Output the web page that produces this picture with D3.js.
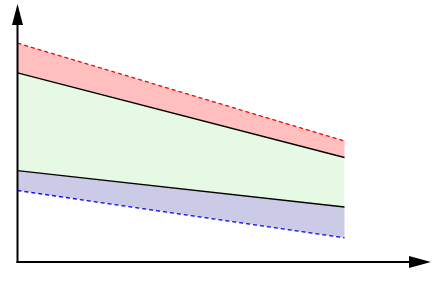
<!DOCTYPE html>
<html>
<head>
<meta charset="utf-8">
<script src="https://cdn.jsdelivr.net/npm/d3@7"></script>
<style>
  html, body { margin: 0; padding: 0; background: #fff; }
</style>
</head>
<body>
<div class="chart"></div>
<script>
// values (x from 0 to 10)
const xs = [0, 10];
const upperBound = [9.95, 5.5];
const upperLine = [8.6, 4.75];
const lowerLine = [4.15, 2.5];
const lowerBound = [3.25, 1.1];

const width = 434;
const height = 286;
const origin = { x: 17.5, y: 262 };

const svg = d3
  .select('.chart')
  .append('svg')
  .attr('width', width)
  .attr('height', height);

const x = d3.scaleLinear().domain([0, 10]).range([origin.x, 344.5]);
const y = d3.scaleLinear().domain([0, 10]).range([origin.y, 42]);

const rows = xs.map((v, i) => ({
  x: v,
  ub: upperBound[i],
  u: upperLine[i],
  l: lowerLine[i],
  lb: lowerBound[i],
}));

const band = (top, bottom) =>
  d3
    .area()
    .x((d) => x(d.x))
    .y0((d) => y(d[bottom]))
    .y1((d) => y(d[top]));

const line = (key) =>
  d3
    .line()
    .x((d) => x(d.x))
    .y((d) => y(d[key]));

svg.append('path').datum(rows).attr('d', band('ub', 'u')).attr('fill', '#ffbfbf');
svg.append('path').datum(rows).attr('d', band('u', 'l')).attr('fill', '#e5f9e5');
svg.append('path').datum(rows).attr('d', band('l', 'lb')).attr('fill', '#cbcbe8');

svg
  .append('path')
  .datum(rows)
  .attr('d', line('ub'))
  .attr('fill', 'none')
  .attr('stroke', '#ff0000')
  .attr('stroke-width', 1.3)
  .attr('stroke-dasharray', '4,3');

svg
  .append('path')
  .datum(rows)
  .attr('d', line('lb'))
  .attr('fill', 'none')
  .attr('stroke', '#0000ff')
  .attr('stroke-width', 1.3)
  .attr('stroke-dasharray', '4,3');

['u', 'l'].forEach((k) => {
  svg
    .append('path')
    .datum(rows)
    .attr('d', line(k))
    .attr('fill', 'none')
    .attr('stroke', '#000')
    .attr('stroke-width', 1.3);
});

// axes with arrow heads
svg
  .append('line')
  .attr('x1', origin.x - 1)
  .attr('y1', origin.y)
  .attr('x2', 412)
  .attr('y2', origin.y)
  .attr('stroke', '#000')
  .attr('stroke-width', 2);

svg
  .append('path')
  .attr('d', `M431,${origin.y} L409,${origin.y - 6} L409,${origin.y + 6} Z`)
  .attr('fill', '#000');

svg
  .append('line')
  .attr('x1', origin.x)
  .attr('y1', origin.y + 1)
  .attr('x2', origin.x)
  .attr('y2', 22)
  .attr('stroke', '#000')
  .attr('stroke-width', 2);

svg
  .append('path')
  .attr('d', `M${origin.x},4 L${origin.x - 5.5},25 L${origin.x + 5.5},25 Z`)
  .attr('fill', '#000');
</script>
</body>
</html>
